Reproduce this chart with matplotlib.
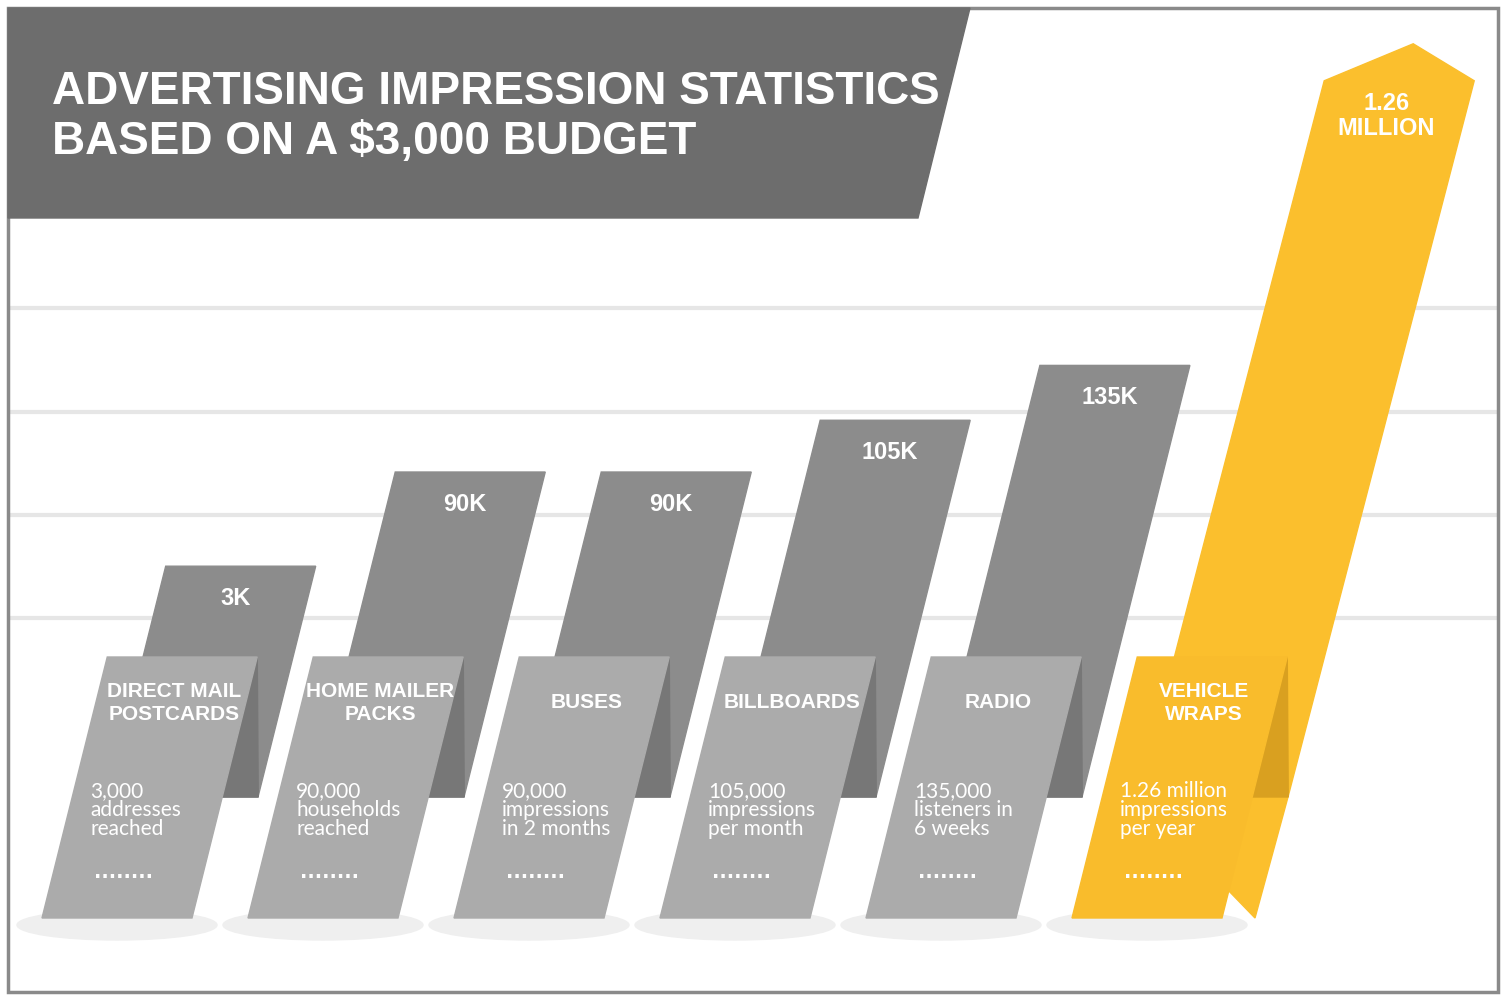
import matplotlib
matplotlib.use("Agg")
import matplotlib.pyplot as plt
from matplotlib.patches import Polygon, Ellipse, Rectangle

COND = "Liberation Sans"
LIGHT = "Lato"

categories = ["DIRECT MAIL\nPOSTCARDS", "HOME MAILER\nPACKS", "BUSES", "BILLBOARDS", "RADIO", "VEHICLE\nWRAPS"]
value_labels = ["3K", "90K", "90K", "105K", "135K", "1.26\nMILLION"]
descriptions = ["3,000\naddresses\nreached", "90,000\nhouseholds\nreached", "90,000\nimpressions\nin 2 months",
                "105,000\nimpressions\nper month", "135,000\nlisteners in\n6 weeks", "1.26 million\nimpressions\nper year"]
bar_heights = [2.23, 3.14, 3.14, 3.64, 4.17, 6.92]   # in gridline units above the base level
highlight = [False, False, False, False, False, True]

fig = plt.figure(figsize=(15.07, 10), dpi=100)
ax = fig.add_axes([0, 0, 1, 1])
ax.set_xlim(0, 1507); ax.set_ylim(1000, 0); ax.axis("off")

ax.add_patch(Rectangle((8, 8), 1490, 984, fill=False, ec="#8a8a8a", lw=2.5))
for gy in [308, 412, 515, 618]:
    ax.plot([10, 1496], [gy, gy], color="#e6e6e6", lw=3, zorder=0)

ax.add_patch(Polygon([(8, 8), (970, 8), (918, 218), (8, 218)], color="#6d6d6d", zorder=1))
ax.text(52, 117, "ADVERTISING IMPRESSION STATISTICS\nBASED ON A $3,000 BUDGET", color="white",
        fontsize=33, fontfamily=COND, fontweight="bold", va="center", ha="left", linespacing=1.15, zorder=2)

slope = 0.25
base, unit, step, w = 797, 103.5, 206, 150
for i, cat in enumerate(categories):
    hl = highlight[i]
    back = "#fbbf2d" if hl else "#8c8c8c"
    front = "#f9bc2c" if hl else "#ababab"
    tri = "#d9a020" if hl else "#777777"
    top = base - bar_heights[i] * unit
    x0 = 42 + step * i
    if hl:
        s2 = 0.26
        xr2 = lambda y: x0 + 216 + s2 * (797 - y)
        pts = [(xr2(top) - w, top), (xr2(top) - w + 89, top - 37), (xr2(top), top),
               (xr2(base), base), (x0 + 183, 918), (xr2(base) - w, base)]
        ax.add_patch(Polygon(pts, color=back, zorder=3))
        lx, ly = xr2(top) - 88, top + 35
    else:
        xr = lambda y: x0 + 216 + slope * (797 - y)
        ax.add_patch(Polygon([(xr(top) - w, top), (xr(top), top), (xr(base), base), (xr(base) - w, base)],
                             color=back, zorder=3))
        lx, ly = xr(top) - 80, top + 32
    ax.text(lx, ly, value_labels[i], color="white", fontsize=17, fontfamily=COND, fontweight="bold",
            ha="center", va="center", linespacing=1.1, zorder=6)
    ax.add_patch(Ellipse((x0 + 75, 925), 200, 30, color="#efefef", zorder=2))
    cr_top = x0 + w + slope * (918 - 657)
    ax.add_patch(Polygon([(cr_top, 657), (cr_top + 1, base), (x0 + 180, base)], color=tri, zorder=4))
    card = [(x0 + slope * 261, 657), (cr_top, 657), (x0 + w, 918), (x0, 918)]
    ax.add_patch(Polygon(card, color=front, zorder=5))
    cx = x0 + 75 + slope * 261
    ax.text(cx - 8, 703, cat, color="white", fontsize=15, fontfamily=COND, fontweight="bold",
            ha="center", va="center", linespacing=1.3, zorder=6)
    ax.text(x0 + 48, 810, descriptions[i], color="white", fontsize=15, fontfamily=LIGHT,
            ha="left", va="center", linespacing=0.95, zorder=6)
    ax.text(x0 + 82, 873, "........", color="white", fontsize=14, fontweight="bold", ha="center",
            va="center", zorder=6)

fig.savefig("out.png", dpi=100)
